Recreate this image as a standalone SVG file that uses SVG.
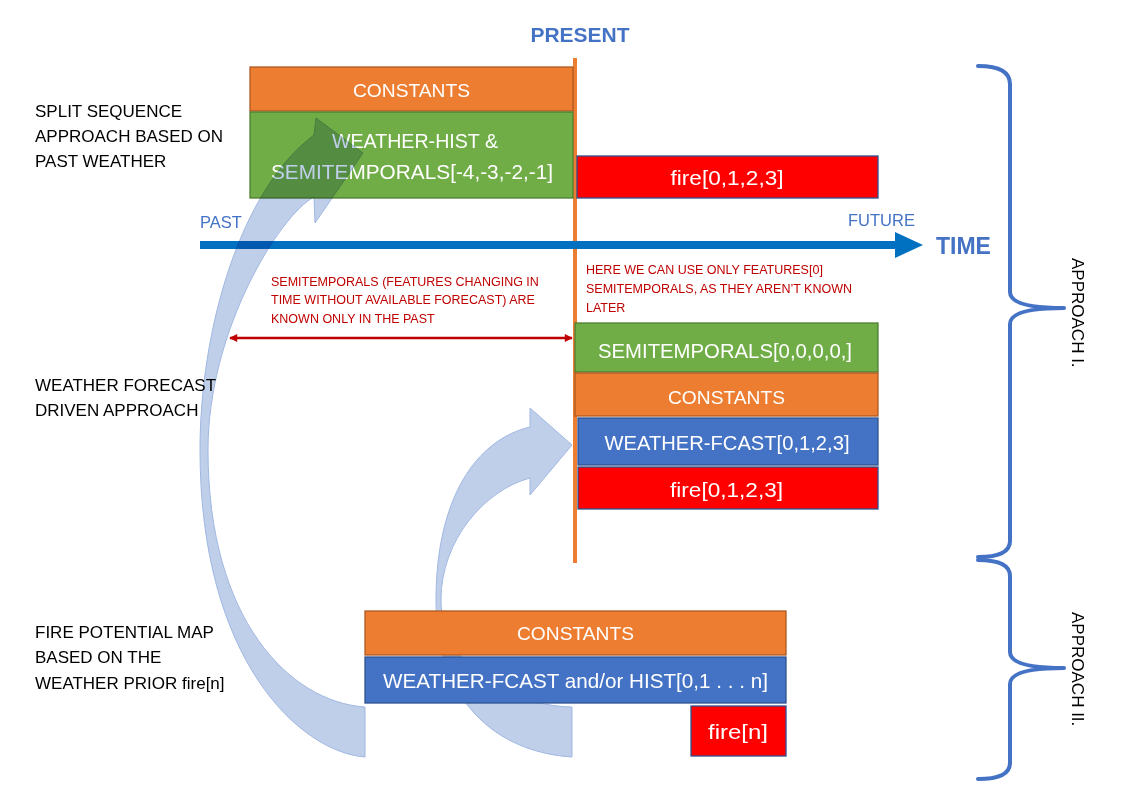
<svg xmlns="http://www.w3.org/2000/svg" width="1125" height="809" viewBox="0 0 1125 809">
<defs>
<style>
text{font-family:"Liberation Sans",Arial,sans-serif}
.org{fill:#ED7D31;stroke:#AE5A21;stroke-width:1.3}
.grn{fill:#70AD47;stroke:#507E32;stroke-width:1.3}
.blu{fill:#4472C4;stroke:#2F528F;stroke-width:1.3}
.red{fill:#FF0000;stroke:#2F528F;stroke-width:1.3}
.bl{fill:#FFFFFF;font-size:21px;text-anchor:middle}
.cn{fill:#FFFFFF;font-size:19px;text-anchor:middle}
.side{fill:#000000;font-size:17px}
.note{fill:#C00000;font-size:12.5px}
.time{fill:#4472C4}
.curv{fill:#B4C7E7;stroke:#8FAADC;stroke-width:1;mix-blend-mode:multiply;opacity:0.85}
.brace{fill:none;stroke:#4472C4;stroke-width:4;stroke-linecap:round;stroke-linejoin:round}
.appr{fill:#000000;font-size:17px}
</style>
<marker id="redhead" viewBox="0 0 10 10" refX="9" refY="5" markerWidth="9" markerHeight="8" markerUnits="userSpaceOnUse" orient="auto-start-reverse">
<path d="M0,0 L10,5 L0,10 z" fill="#C00000"/>
</marker>
</defs>
<rect width="1125" height="809" fill="#FFFFFF"/>

<g id="present">
<text x="580" y="42" class="time" font-size="21" font-weight="bold" text-anchor="middle">PRESENT</text>
<line x1="575" y1="58" x2="575" y2="563" stroke="#ED7D31" stroke-width="4"/>
</g>

<g id="timeline">
<line x1="200" y1="245" x2="897" y2="245" stroke="#0070C0" stroke-width="8"/>
<polygon points="895,232 923,245 895,258" fill="#0070C0"/>
<text x="200" y="228" class="time" font-size="16.5">PAST</text>
<text x="848" y="226" class="time" font-size="16.5">FUTURE</text>
<text x="936" y="254" class="time" font-size="23" font-weight="bold">TIME</text>
</g>

<g id="label-split">
<text x="35" y="117" class="side">SPLIT SEQUENCE</text>
<text x="35" y="142" class="side">APPROACH BASED ON</text>
<text x="35" y="167" class="side">PAST WEATHER</text>
</g>
<g id="label-forecast">
<text x="35" y="391" class="side">WEATHER FORECAST</text>
<text x="35" y="416" class="side">DRIVEN APPROACH</text>
</g>
<g id="label-map">
<text x="35" y="638" class="side">FIRE POTENTIAL MAP</text>
<text x="35" y="663" class="side">BASED ON THE</text>
<text x="35" y="689" class="side">WEATHER PRIOR fire[n]</text>
</g>

<g id="split-constants">
<rect x="250" y="67" width="323" height="44" class="org"/>
<text x="411.5" y="96.5" class="cn" textLength="117" lengthAdjust="spacingAndGlyphs">CONSTANTS</text>
</g>
<g id="split-weather-hist">
<rect x="250" y="112" width="323" height="86" class="grn"/>
<text x="415" y="148" class="bl" textLength="166" lengthAdjust="spacingAndGlyphs">WEATHER-HIST &amp;</text>
<text x="412" y="179" class="bl" textLength="282" lengthAdjust="spacingAndGlyphs">SEMITEMPORALS[-4,-3,-2,-1]</text>
</g>
<g id="split-fire">
<rect x="577" y="156" width="301" height="42" class="red"/>
<text x="727" y="184.5" class="bl" textLength="113" lengthAdjust="spacingAndGlyphs">fire[0,1,2,3]</text>
</g>

<g id="note-past">
<text x="271" y="285.5" class="note">SEMITEMPORALS (FEATURES CHANGING IN</text>
<text x="271" y="304" class="note">TIME WITHOUT AVAILABLE FORECAST) ARE</text>
<text x="271" y="323" class="note">KNOWN ONLY IN THE PAST</text>
</g>
<g id="note-present">
<text x="586" y="273.5" class="note">HERE WE CAN USE ONLY FEATURES[0]</text>
<text x="586" y="292.5" class="note">SEMITEMPORALS, AS THEY AREN’T KNOWN</text>
<text x="586" y="311.5" class="note">LATER</text>
</g>

<g id="fc-semitemporals">
<rect x="575" y="323" width="303" height="49" class="grn"/>
<text x="725" y="358" class="bl" textLength="254" lengthAdjust="spacingAndGlyphs">SEMITEMPORALS[0,0,0,0,]</text>
</g>
<g id="fc-constants">
<rect x="575" y="373" width="303" height="43" class="org"/>
<text x="726.5" y="403.5" class="cn" textLength="117" lengthAdjust="spacingAndGlyphs">CONSTANTS</text>
</g>
<g id="fc-weather">
<rect x="578" y="418" width="300" height="47" class="blu"/>
<text x="727" y="450" class="bl" textLength="245" lengthAdjust="spacingAndGlyphs">WEATHER-FCAST[0,1,2,3]</text>
</g>
<g id="fc-fire">
<rect x="578" y="467" width="300" height="42" class="red"/>
<text x="726.5" y="497" class="bl" textLength="113" lengthAdjust="spacingAndGlyphs">fire[0,1,2,3]</text>
</g>

<g id="connectors">
<line x1="230" y1="338" x2="572" y2="338" stroke="#C00000" stroke-width="2.5" marker-start="url(#redhead)" marker-end="url(#redhead)"/>
<path class="curv" d="M572,757 C495,752 436,700 436,600 C436,500 475,440 530,427 L530,408 L572,445 L530,495 L530,478 C485,490 441,540 441,600 C441,660 500,705 572,707 Z"/>
<path class="curv" d="M365,757 C300,752 200,660 200,450 C200,330 240,190 314,135 L316,118 L363,153 L315,223 L314,197 C280,215 208,330 208,450 C208,620 290,702 365,707 Z"/>
</g>

<g id="map-constants">
<rect x="365" y="611" width="421" height="44" class="org"/>
<text x="575.5" y="640" class="cn" textLength="117" lengthAdjust="spacingAndGlyphs">CONSTANTS</text>
</g>
<g id="map-weather">
<rect x="365" y="657" width="421" height="46" class="blu"/>
<text x="575.5" y="688" class="bl" textLength="385" lengthAdjust="spacingAndGlyphs">WEATHER-FCAST and/or HIST[0,1 . . . n]</text>
</g>
<g id="map-fire">
<rect x="691" y="706" width="95" height="50" class="red"/>
<text x="738" y="739" class="bl" textLength="60" lengthAdjust="spacingAndGlyphs">fire[n]</text>
</g>

<g id="approach-1">
<path class="brace" d="M978,66 Q1010,66 1010,84 L1010,292 Q1010,308 1064,308 Q1010,308 1010,324 L1010,541 Q1010,557 978,557"/>
<text class="appr" transform="translate(1072,258) rotate(90)">APPROACH I.</text>
</g>
<g id="approach-2">
<path class="brace" d="M978,560 Q1010,560 1010,576 L1010,652 Q1010,668 1064,668 Q1010,668 1010,684 L1010,763 Q1010,779 978,779"/>
<text class="appr" transform="translate(1072,612) rotate(90)">APPROACH II.</text>
</g>
</svg>
